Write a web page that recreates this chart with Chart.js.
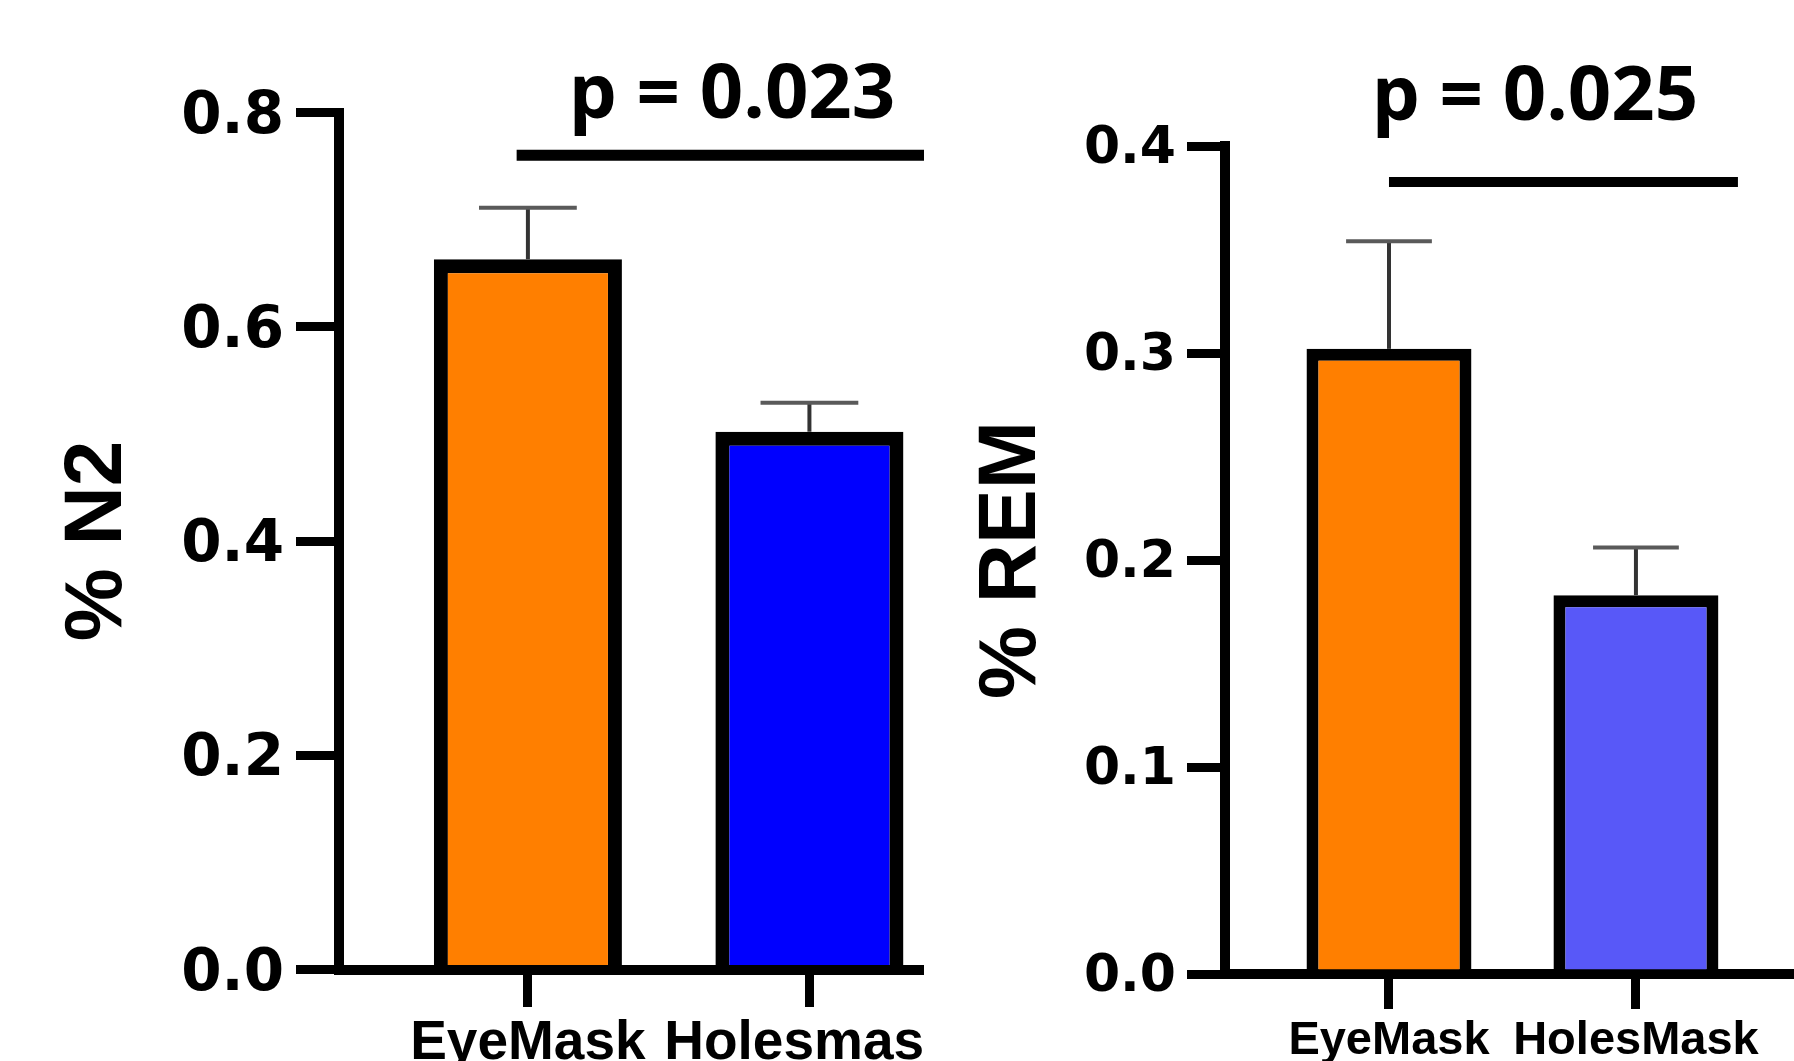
<!DOCTYPE html>
<html>
<head>
<meta charset="utf-8">
<script src="https://cdn.jsdelivr.net/npm/chart.js@4.4.1/dist/chart.umd.min.js"></script>
<style>
  html, body { margin: 0; padding: 0; background: #ffffff; }
  #wrap { position: relative; width: 1794px; height: 1061px; overflow: hidden; background: #ffffff; }
  .panel { position: absolute; top: 0; }
  #panelN2 { left: 0; width: 924px; height: 1061px; }
  #panelREM { left: 924px; width: 870px; height: 1061px; }
</style>
</head>
<body>
<div id="wrap">
  <div class="panel" id="panelN2"><canvas id="chartN2" width="924" height="1061"></canvas></div>
  <div class="panel" id="panelREM"><canvas id="chartREM" width="870" height="1061"></canvas></div>
</div>
<script>
// ---- N2 panel data ----
const n2Groups = ['EyeMask', 'Holesmask'];
const n2Means = [0.663, 0.502];
const n2Sem = [0.048, 0.027];
const n2Ticks = [0.0, 0.2, 0.4, 0.6, 0.8];
const n2Colors = ['#FF7F00', '#0000FF'];
const n2PLabel = 'p = 0.023';
const n2Title = '% N2';

// ---- REM panel data ----
const remGroups = ['EyeMask', 'HolesMask'];
const remMeans = [0.302, 0.183];
const remSem = [0.052, 0.023];
const remTicks = [0.0, 0.1, 0.2, 0.3, 0.4];
const remColors = ['#FF7F00', '#5858F8'];
const remPLabel = 'p = 0.025';
const remTitle = '% REM';

// Error bars (mean + SEM, upper side only), drawn on top of each bar
const errorBarPlugin = {
  id: 'errorBars',
  afterDatasetsDraw(chart, args, opts) {
    const meta = chart.getDatasetMeta(0);
    const yScale = chart.scales.y;
    const ctx = chart.ctx;
    ctx.save();
    meta.data.forEach((bar, i) => {
      const top = yScale.getPixelForValue(opts.means[i] + opts.sem[i]);
      const half = bar.width * 0.26;
      ctx.lineCap = 'butt';
      ctx.strokeStyle = '#333333';
      ctx.lineWidth = opts.width;
      ctx.beginPath();
      ctx.moveTo(bar.x, bar.y);
      ctx.lineTo(bar.x, top);
      ctx.stroke();
      ctx.strokeStyle = '#5a5a5a';
      ctx.beginPath();
      ctx.moveTo(bar.x - half, top);
      ctx.lineTo(bar.x + half, top);
      ctx.stroke();
    });
    ctx.restore();
  }
};

// p-value label above the significance line
const pLabelPlugin = {
  id: 'pLabel',
  afterDraw(chart, args, opts) {
    const ctx = chart.ctx;
    ctx.save();
    ctx.fillStyle = '#000000';
    ctx.font = opts.font;
    ctx.textAlign = 'center';
    ctx.textBaseline = 'alphabetic';
    ctx.fillText(opts.text,
      chart.scales.x.getPixelForValue(opts.x),
      chart.scales.y.getPixelForValue(opts.y));
    ctx.restore();
  }
};

function makePanel(canvasId, d, s) {
  return new Chart(document.getElementById(canvasId), {
    type: 'bar',
    data: {
      datasets: [
        {
          type: 'bar',
          data: d.means.map((v, i) => ({ x: i, y: v })),
          backgroundColor: d.colors,
          borderColor: '#000000',
          borderWidth: s.barBorder,
          barPercentage: 0.668,
          categoryPercentage: 1.0
        },
        {
          // significance bracket between the two groups
          type: 'line',
          data: [{ x: s.sigFrom, y: s.sigY }, { x: s.sigTo, y: s.sigY }],
          borderColor: '#000000',
          borderWidth: s.sigWidth,
          borderCapStyle: 'butt',
          pointRadius: 0,
          clip: false
        }
      ]
    },
    options: {
      responsive: false,
      animation: false,
      devicePixelRatio: 1,
      layout: { padding: { top: s.top, right: 0, bottom: 0, left: 0 } },
      plugins: {
        legend: { display: false },
        tooltip: { enabled: false },
        errorBars: { means: d.means, sem: d.sem, width: 4 },
        pLabel: { text: d.pLabel, x: s.pX, y: s.pY, font: 'bold 76px "Open Sans"' }
      },
      scales: {
        x: {
          type: 'linear',
          min: s.xMin,
          max: s.xMax,
          offset: false,
          afterBuildTicks: (sc) => { sc.ticks = d.groups.map((g, i) => ({ value: i })); },
          afterFit: (sc) => { sc.height = s.xHeight; sc.paddingLeft = 0; sc.paddingRight = 0; },
          grid: { offset: false, drawOnChartArea: false, color: '#000000', lineWidth: 9, tickLength: s.xTickLen },
          border: { display: true, color: '#000000', width: 10 },
          ticks: {
            autoSkip: false,
            maxRotation: 0,
            minRotation: 0,
            padding: s.xPad,
            color: '#000000',
            font: { family: '"Liberation Sans", Arial, sans-serif', weight: 'bold', size: s.xFont },
            callback: (v) => d.groups[v] ?? ''
          }
        },
        y: {
          min: 0,
          max: d.ticks[d.ticks.length - 1],
          afterBuildTicks: (sc) => { sc.ticks = d.ticks.map((t) => ({ value: t })); },
          afterFit: (sc) => { sc.width = s.yWidth; },
          grid: { drawOnChartArea: false, color: '#000000', lineWidth: 9, tickLength: s.yTickLen },
          border: { display: true, color: '#000000', width: 10 },
          ticks: {
            padding: s.yPad,
            labelOffset: s.yLabelShift,
            color: '#000000',
            font: { family: '"DejaVu Sans", sans-serif', weight: 'bold', size: s.yFont },
            callback: (v) => Number(v).toFixed(1)
          },
          title: {
            display: true,
            text: d.title,
            color: '#000000',
            font: { family: '"Liberation Sans", Arial, sans-serif', weight: 'bold', size: s.titleFont },
            padding: { top: s.titlePad, bottom: 0 }
          }
        }
      }
    },
    plugins: [errorBarPlugin, pLabelPlugin]
  });
}

makePanel('chartN2',
  { groups: n2Groups, means: n2Means, sem: n2Sem, ticks: n2Ticks, colors: n2Colors, pLabel: n2PLabel, title: n2Title },
  { top: 112.5, yWidth: 339, xHeight: 91.5, xMin: -0.671, xMax: 1.407,
    yTickLen: 43, xTickLen: 37.5, yPad: 12, yLabelShift: 5, xPad: 4, yFont: 58, xFont: 55,
    titleFont: 82, titlePad: 49, barBorder: 14,
    sigFrom: -0.04, sigTo: 1.45, sigY: 0.760, sigWidth: 11, pX: 0.725, pY: 0.795 });

makePanel('chartREM',
  { groups: remGroups, means: remMeans, sem: remSem, ticks: remTicks, colors: remColors, pLabel: remPLabel, title: remTitle },
  { top: 146, yWidth: 301, xHeight: 87, xMin: -0.664, xMax: 1.640,
    yTickLen: 38, xTickLen: 35, yPad: 11, yLabelShift: 3, xPad: 4, yFont: 52, xFont: 47,
    titleFont: 82, titlePad: 39, barBorder: 12,
    sigFrom: 0.0, sigTo: 1.413, sigY: 0.3826, sigWidth: 10, pX: 0.591, pY: 0.4126 });
</script>
</body>
</html>
